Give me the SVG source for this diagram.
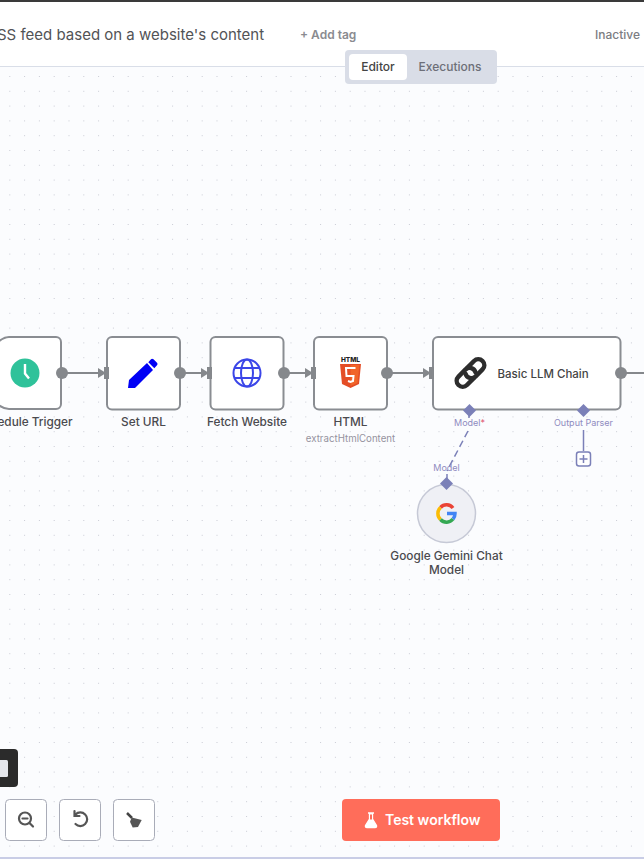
<svg xmlns="http://www.w3.org/2000/svg" width="644" height="859" viewBox="0 0 644 859">
<style>
text{font-family:Inter,"Liberation Sans",sans-serif}
.node{fill:#fff;stroke:#8a8d92;stroke-width:2}
.lbl{font-size:11.8px;fill:#4a4a4e;font-weight:500;text-anchor:middle}
.sub{font-size:9.7px;fill:#96939f;text-anchor:middle}
.port{font-size:9px;fill:#8f8bc0;text-anchor:middle}
.dot{fill:#85888c}
.in{fill:#85888c}
.wire{stroke:#85888c;stroke-width:2;fill:none}
.dia{fill:#7b80b8}
.sup{stroke:#7b80b8;stroke-width:1.5;fill:none}
.btn{fill:#fff;stroke:#a9acb8;stroke-width:1}
.tool{fill:none;stroke:#555;stroke-width:2.2;stroke-linecap:round}
</style>
<defs>
<pattern id="grid" width="14.8" height="14.8" patternUnits="userSpaceOnUse" x="9.3" y="2">
<circle cx="0.5" cy="0.5" r="0.55" fill="#c4c7d0"/>
</pattern>
</defs>
<rect width="644" height="859" fill="#fbfcfe"/>
<rect width="644" height="859" fill="url(#grid)"/>
<g id="header">
<rect width="644" height="66" fill="#fff"/>
<rect width="644" height="2" fill="#3a3a3a"/>
<rect y="66" width="644" height="1" fill="#d9dee8"/>
<text x="-3" y="39.500" font-size="15" fill="#525356">SS feed based on a website's content</text>
<text x="300" y="39" font-size="12" font-weight="600" fill="#8a8b90">+ Add tag</text>
<text x="595" y="39" font-size="12" font-weight="500" fill="#7c7d82">Inactive</text>
</g>
<g id="tabs">
<rect x="345" y="50" width="152" height="34" rx="4" fill="#d9dde7"/>
<rect x="349" y="54" width="58" height="26" rx="4" fill="#fff"/>
<text x="378" y="71" font-size="12" font-weight="500" fill="#444" text-anchor="middle">Editor</text>
<text x="450" y="71" font-size="12" font-weight="500" fill="#6d6f78" text-anchor="middle">Executions</text>
</g>
<g id="connectors">
<path class="wire" d="M62 373H100"/><path class="in" d="M98 368L106 373L98 378Z"/>
<path class="wire" d="M180 373H203"/><path class="in" d="M201 368L209 373L201 378Z"/>
<path class="wire" d="M284 373H307"/><path class="in" d="M305 368L313 373L305 378Z"/>
<path class="wire" d="M387 373H425"/><path class="in" d="M423 368L431 373L423 378Z"/>
<path class="wire" d="M621 373H644"/>
<path class="sup" d="M469 410V418"/>
<path class="sup" d="M468 431L447 471" stroke-dasharray="7 4"/>
<path class="sup" d="M447 474V484"/>
<path class="sup" d="M583.500 430V451"/>
</g>
<g id="schedule-trigger">
<path class="node" d="M-4 344Q3 337 9 337H56a5 5 0 0 1 5 5V404a5 5 0 0 1-5 5H9Q3 409 -4 403"/>
<circle cx="25" cy="373" r="14.500" fill="#2fc29a"/>
<path d="M25 364V373.500L29 378.500" fill="none" stroke="#fff" stroke-width="2.400"/>
<circle class="dot" cx="62" cy="373" r="6"/>
<text class="lbl" x="35" y="426">edule Trigger</text>
</g>
<g id="set-url">
<rect class="node" x="107" y="337" width="73" height="72.500" rx="5"/>
<rect class="in" x="104" y="367" width="5" height="12"/>
<path d="M128 388L129 380L147 363L153 370L135 388ZM148.300 362.300L151 359.300Q152 358 153.500 359.300L157 362.800Q158.200 364 157 365.300L154.300 368.300Z" fill="#0000f5"/>
<circle class="dot" cx="180" cy="373" r="6"/>
<text class="lbl" x="143.500" y="426">Set URL</text>
</g>
<g id="fetch-website">
<rect class="node" x="210.500" y="337" width="73" height="72.500" rx="5"/>
<rect class="in" x="207" y="367" width="5" height="12"/>
<g fill="none" stroke="#3b46e8" stroke-width="2">
<circle cx="247" cy="373" r="13.500"/><ellipse cx="247" cy="373" rx="6" ry="13.500"/>
<path d="M235 368H259M235 378H259"/>
</g>
<circle class="dot" cx="284" cy="373" r="6"/>
<text class="lbl" x="247" y="426">Fetch Website</text>
</g>
<g id="html">
<rect class="node" x="314" y="337" width="73" height="72.500" rx="5"/>
<rect class="in" x="311" y="367" width="5" height="12"/>
<text x="350.500" y="362" font-size="6.500" font-weight="800" fill="#222" text-anchor="middle">HTML</text>
<path d="M340 364H361L359 384L350.500 388L342 384Z" fill="#e44d26"/>
<path d="M350.500 365V386L357.500 383L359.500 365Z" fill="#f16529"/>
<path d="M355.500 368H346L346.500 376H353.500L353 381L350.500 382L348 381" fill="none" stroke="#fff" stroke-width="2"/>
<circle class="dot" cx="387" cy="373" r="6"/>
<text class="lbl" x="350.500" y="426">HTML</text>
<text class="sub" x="350.500" y="442">extractHtmlContent</text>
</g>
<g id="basic-llm-chain">
<rect class="node" x="433" y="337" width="187.500" height="72.500" rx="5"/>
<rect class="in" x="429" y="367" width="5" height="12"/>
<g transform="translate(470.500 373) rotate(-45)" fill="none" stroke="#2d2d2d" stroke-width="4.500" stroke-linecap="round">
<path d="M-1 6H-11A6 6 0 0 1 -11 -6H-1A6 6 0 0 1 4 3"/>
<path d="M1 -6H11A6 6 0 0 1 11 6H1A6 6 0 0 1 -4 -3"/>
</g>
<text x="497.500" y="378" font-size="11.500" font-weight="500" fill="#444">Basic LLM Chain</text>
<circle class="dot" cx="621" cy="373" r="6"/>
<path class="dia" d="M469.500 404L476 410.500L469.500 417L463 410.500Z"/>
<path class="dia" d="M583.500 404L590 410.500L583.500 417L577 410.500Z"/>
<text class="port" x="469.500" y="426">Model<tspan fill="#e0506e">*</tspan></text>
<text class="port" x="583.500" y="426">Output Parser</text>
<g id="add-parser">
<rect x="576.500" y="452" width="14" height="14" rx="2.500" fill="#fff" stroke="#7b80b8" stroke-width="1.500"/>
<path d="M583.500 455V463M579.500 459H587.500" stroke="#7b80b8" stroke-width="1.500"/>
</g>
</g>
<g id="google-gemini-chat-model">
<circle cx="446.500" cy="513.500" r="29" fill="#eff0f5" stroke="#c6c9d6" stroke-width="1.500"/>
<path class="dia" d="M446.500 477L453 483.500L446.500 490L440 483.500Z"/>
<text class="port" x="446.500" y="471">Model</text>
<g fill="none" stroke-width="3.500">
<path d="M453 508A8.200 8.200 0 0 0 440.500 507.500" stroke="#ea4335"/>
<path d="M440.500 507.500A8.200 8.200 0 0 0 440.500 519.500" stroke="#fbbc05"/>
<path d="M440.500 519.500A8.200 8.200 0 0 0 453 519" stroke="#34a853"/>
<path d="M453 519A8.200 8.200 0 0 0 455 513.500H447" stroke="#4285f4"/>
</g>
<text class="lbl" x="446.500" y="560">Google Gemini Chat</text>
<text class="lbl" x="446.500" y="574">Model</text>
</g>
<g id="controls">
<rect x="-10" y="749" width="28" height="38" rx="4" fill="#2b2b2b"/>
<rect x="-6" y="760" width="14" height="17" rx="1.500" fill="#e4e6ec"/>
<g id="zoom-out">
<rect class="btn" x="5.500" y="799.500" width="41" height="41" rx="4"/>
<circle class="tool" cx="25" cy="818.500" r="6"/>
<path class="tool" d="M22.500 818.500H27.500M29.500 823L33 826.500"/>
</g>
<g id="reset">
<rect class="btn" x="59.500" y="799.500" width="41" height="41" rx="4"/>
<path class="tool" d="M75.500 814.500A6.800 6.800 0 1 1 75.500 824M74.500 811V816H79.500"/>
</g>
<g id="tidy">
<rect class="btn" x="113.500" y="799.500" width="41" height="41" rx="4"/>
<path d="M127 813L132 818" stroke="#444" stroke-width="2.500"/>
<path d="M131.700 817.500L141.700 820L138 827L132.700 827.500L130 821.700Z" fill="#555"/>
</g>
</g>
<g id="test-workflow">
<rect x="342" y="799" width="158" height="42" rx="4" fill="#ff6d5a"/>
<path d="M368 813H374M369.500 813V819L365.500 825.500Q365 827.500 367 827.500H375Q377 827.500 376.500 825.500L372.500 819V813" fill="#fff" stroke="#fff" stroke-width="1.300"/>
<path d="M370 814.500H372V819.500H370Z" fill="#ff6d5a"/>
<text x="385" y="825" font-size="14" font-weight="600" fill="#fff">Test workflow</text>
</g>
<rect id="bottom-edge" y="857" width="644" height="2" fill="#c9cde6"/>
</svg>
